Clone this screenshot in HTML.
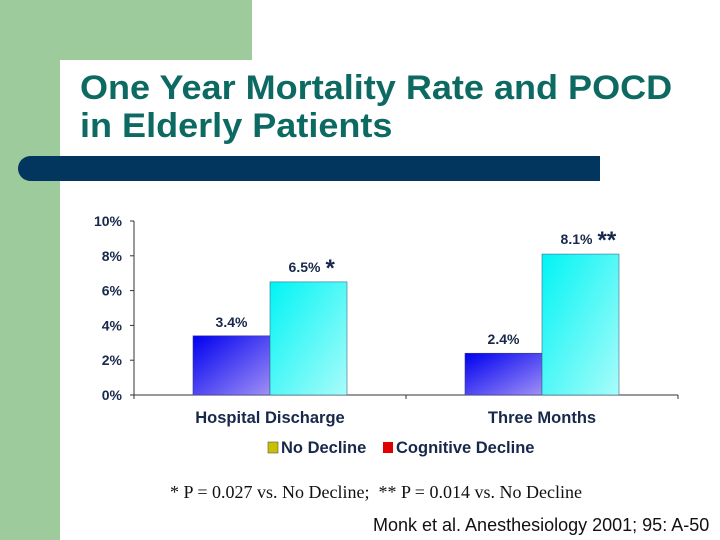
<!DOCTYPE html>
<html><head><meta charset="utf-8"><style>
body{margin:0;width:720px;height:540px;overflow:hidden;background:#fff;font-family:"Liberation Sans",sans-serif;position:relative}
.abs{position:absolute}
</style></head><body>
<div class="abs" style="left:0;top:0;width:252px;height:60px;background:#9ecb9b"></div>
<div class="abs" style="left:0;top:0;width:60px;height:540px;background:#9ecb9b"></div>
<div class="abs" style="left:60px;top:60px;width:60px;height:60px;background:#fff;border-top-left-radius:22px"></div>
<div class="abs" style="left:80px;top:69px;font-size:34px;font-weight:bold;color:#0d6a63;line-height:38px;transform:scaleX(1.06);transform-origin:left top;white-space:nowrap">One Year Mortality Rate and POCD<br>in Elderly Patients</div>
<div class="abs" style="left:18px;top:156px;width:582px;height:25px;background:#02365f;border-radius:13px 0 0 13px"></div>
<svg class="abs" style="left:0;top:0" width="720" height="540">
<defs>
<linearGradient id="gb" x1="0" y1="0" x2="1" y2="1"><stop offset="0" stop-color="#0000f0"/><stop offset="1" stop-color="#9f8ff5"/></linearGradient>
<linearGradient id="gc" x1="0" y1="0" x2="1" y2="1"><stop offset="0" stop-color="#00f4f4"/><stop offset="1" stop-color="#a8fcfa"/></linearGradient>
</defs>
<g id="chart"></g>
</svg>
<div class="abs" style="left:170px;top:482px;font-family:'Liberation Serif',serif;font-size:18px;color:#111;white-space:nowrap">* P = 0.027 vs. No Decline;&nbsp; ** P = 0.014 vs. No Decline</div>
<div class="abs" style="left:373px;top:515px;font-size:18px;color:#111;white-space:nowrap">Monk et al. Anesthesiology 2001; 95: A-50</div>
<script>
const categories=["Hospital Discharge","Three Months"];
const noDecline=[3.4,2.4];
const cognitiveDecline=[6.5,8.1];
const stars=["*","**"];
const yTicks=[0,2,4,6,8,10];
const NS="http://www.w3.org/2000/svg";
const g=document.getElementById('chart');
const y0=395,y1=221,xL=134,xR=678;
const y=v=>y0-(v/10)*(y0-y1);
const grpW=(xR-xL)/categories.length;
function el(t,a,txt){const e=document.createElementNS(NS,t);for(const k in a)e.setAttribute(k,a[k]);if(txt!==undefined)e.textContent=txt;g.appendChild(e);return e;}
let e=el('line',{x1:xL,y1:y1,x2:xL,y2:y0,stroke:'#333'});

e=el('line',{x1:xL,y1:y0,x2:xR,y2:y0,stroke:'#333'});

yTicks.forEach(t=>{
 el('line',{x1:xL-4,y1:y(t),x2:xL,y2:y(t),stroke:'#333'});
 e=el('text',{x:xL-12,y:y(t)+5,'text-anchor':'end','font-size':14,'font-weight':'bold',fill:'#17284a'},t+'%');
 
});
for(let i=0;i<=categories.length;i++)el('line',{x1:xL+grpW*i,y1:y0,x2:xL+grpW*i,y2:y0+4,stroke:'#333'});
const bw=77;
categories.forEach((c,i)=>{
 const cx=xL+grpW*(i+0.5);
 const a=noDecline[i],b=cognitiveDecline[i];
 e=el('rect',{x:cx-bw,y:y(a),width:bw,height:y0-y(a),fill:'url(#gb)',stroke:'#3a3a8a','stroke-width':0.6});
 
 e=el('rect',{x:cx,y:y(b),width:bw,height:y0-y(b),fill:'url(#gc)',stroke:'#3a6a8a','stroke-width':0.6});
 
 e=el('text',{x:cx-bw/2,y:y(a)-9,'text-anchor':'middle','font-size':14,'font-weight':'bold',fill:'#17284a'},a.toFixed(1)+'%');
 
 e=el('text',{x:cx+bw/2-4,y:y(b)-10,'text-anchor':'middle','font-size':14,'font-weight':'bold',fill:'#17284a'},b.toFixed(1)+'%');
 
 e=el('text',{x:cx+bw/2+17,y:y(b)-6,'font-size':24,'font-weight':'bold',fill:'#17284a'},stars[i]);
 
 e=el('text',{x:cx,y:423,'text-anchor':'middle','font-size':16.5,'font-weight':'bold',fill:'#17284a'},c);
 
});
e=el('rect',{x:268,y:442,width:10,height:11,fill:'#c8c000',stroke:'#555','stroke-width':0.6});

e=el('text',{x:281,y:453,'font-size':16.5,'font-weight':'bold',fill:'#17284a'},'No Decline');

e=el('rect',{x:383,y:442,width:10,height:11,fill:'#e00000'});

e=el('text',{x:396,y:453,'font-size':16.5,'font-weight':'bold',fill:'#17284a'},'Cognitive Decline');

</script>
</body></html>
